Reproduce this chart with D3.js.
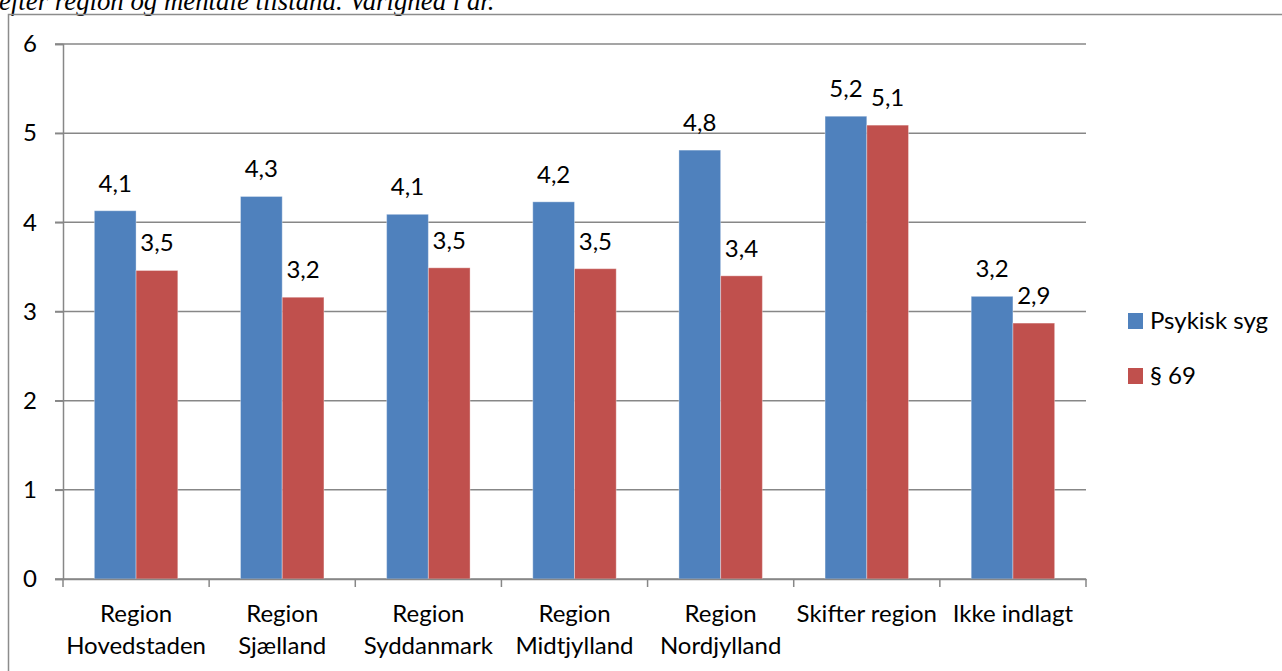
<!DOCTYPE html>
<html>
<head>
<meta charset="utf-8">
<script src="https://cdn.jsdelivr.net/npm/d3@7/dist/d3.min.js"></script>
<style>
  html, body { margin: 0; padding: 0; background: #fff; overflow: hidden; }
  svg { display: block; }
</style>
</head>
<body>
<svg id="chart" width="1282" height="671"></svg>
<script>
// Duration in years by region and mental state
const categories = [
  ["Region", "Hovedstaden"],
  ["Region", "Sjælland"],
  ["Region", "Syddanmark"],
  ["Region", "Midtjylland"],
  ["Region", "Nordjylland"],
  ["Skifter region"],
  ["Ikke indlagt"]
];
const seriesNames = ["Psykisk syg", "§ 69"];
const psykiskSyg = [4.13, 4.29, 4.09, 4.23, 4.81, 5.19, 3.17];
const paragraf69 = [3.46, 3.16, 3.49, 3.48, 3.40, 5.09, 2.87];
const yTicks = [0, 1, 2, 3, 4, 5, 6];
const titleText = "efter region og mentale tilstand. Varighed i år.";

const colors = ["#4F81BD", "#C0504D"];
const font = "Lato, 'Open Sans', sans-serif";
const fs = 24;

const svg = d3.select("#chart");

// Title line (partly above the frame)
svg.append("text")
  .attr("x", -1).attr("y", 10)
  .attr("font-family", "'Liberation Serif', 'Times New Roman', serif")
  .attr("font-style", "italic")
  .attr("font-size", 26.8)
  .attr("fill", "#000")
  .text(titleText);

// Chart frame
svg.append("path")
  .attr("d", "M8.5,672 V14.5 H1290")
  .attr("fill", "none")
  .attr("stroke", "#8c8c8c")
  .attr("stroke-width", 1.5);

const x0 = 63, x1 = 1086, yTop = 44, yBot = 579;

const x = d3.scaleBand()
  .domain(d3.range(categories.length))
  .range([x0, x1])
  .paddingInner(0).paddingOuter(0);

const groupPad = 0.2145;
const xs = d3.scaleBand()
  .domain(d3.range(seriesNames.length))
  .range([x.bandwidth() * groupPad, x.bandwidth() * (1 - groupPad)])
  .padding(0);

const y = d3.scaleLinear().domain([0, 6]).range([yBot, yTop]);

// Horizontal gridlines
svg.append("g").selectAll("line")
  .data(yTicks)
  .join("line")
  .attr("x1", x0 - 8).attr("x2", x1)
  .attr("y1", d => y(d)).attr("y2", d => y(d))
  .attr("stroke", "#878787")
  .attr("stroke-width", 1.5);

// Y axis
const yAxis = d3.axisLeft(y)
  .tickValues(yTicks)
  .tickSize(8)
  .tickPadding(18)
  .tickFormat(d3.format("d"));
const gy = svg.append("g")
  .attr("transform", `translate(${x0},0)`)
  .call(yAxis);
gy.select(".domain").attr("stroke", "#878787").attr("stroke-width", 1.5);
gy.selectAll(".tick line").attr("stroke", "#878787").attr("stroke-width", 1.5);
gy.selectAll(".tick text")
  .attr("font-family", font).attr("font-size", fs).attr("fill", "#000");

// Bars
const series = [psykiskSyg, paragraf69];
const groups = svg.append("g").selectAll("g")
  .data(categories.map((c, i) => i))
  .join("g")
  .attr("transform", i => `translate(${x(i)},0)`);

groups.selectAll("rect")
  .data(i => series.map((s, k) => ({ k, v: s[i] })))
  .join("rect")
  .attr("x", d => xs(d.k))
  .attr("width", xs.bandwidth())
  .attr("y", d => y(d.v))
  .attr("height", d => y(0) - y(d.v))
  .attr("fill", d => colors[d.k])
  .attr("stroke", "rgba(255,255,255,0.35)")
  .attr("stroke-width", 1);

// Value labels
const fmt = v => d3.format(".1f")(v).replace(".", ",");
groups.selectAll("text.val")
  .data(i => series.map((s, k) => ({ k, v: s[i] })))
  .join("text")
  .attr("class", "val")
  .attr("x", d => xs(d.k) + xs.bandwidth() / 2)
  .attr("y", d => y(d.v) - 19)
  .attr("text-anchor", "middle")
  .attr("font-family", font).attr("font-size", fs).attr("fill", "#000")
  .text(d => fmt(d.v));

// X axis line and ticks at band edges
const xAxis = d3.axisBottom(x).tickSize(0).tickFormat("");
const gx = svg.append("g").attr("transform", `translate(0,${yBot})`).call(xAxis);
gx.select(".domain").attr("stroke", "#878787").attr("stroke-width", 1.5);
gx.selectAll(".tick").remove();
svg.append("g").selectAll("line")
  .data(d3.range(categories.length + 1))
  .join("line")
  .attr("x1", i => x0 + i * x.bandwidth())
  .attr("x2", i => x0 + i * x.bandwidth())
  .attr("y1", yBot).attr("y2", yBot + 8)
  .attr("stroke", "#878787").attr("stroke-width", 1.5);

// Category labels
const catText = svg.append("g").selectAll("text")
  .data(categories)
  .join("text")
  .attr("x", (c, i) => x(i) + x.bandwidth() / 2)
  .attr("y", 622)
  .attr("text-anchor", "middle")
  .attr("font-family", font).attr("font-size", fs).attr("fill", "#000");
catText.selectAll("tspan")
  .data(c => c)
  .join("tspan")
  .attr("x", function () { return d3.select(this.parentNode).attr("x"); })
  .attr("dy", (d, j) => j === 0 ? 0 : 32)
  .text(d => d);

// Legend
const legend = svg.append("g").selectAll("g")
  .data(seriesNames)
  .join("g")
  .attr("transform", (d, i) => `translate(1128,${313 + i * 55})`);
legend.append("rect")
  .attr("width", 15).attr("height", 16)
  .attr("fill", (d, i) => colors[i]);
legend.append("text")
  .attr("x", 22).attr("y", 16)
  .attr("font-family", font).attr("font-size", fs).attr("fill", "#000")
  .text(d => d);
</script>
</body>
</html>
